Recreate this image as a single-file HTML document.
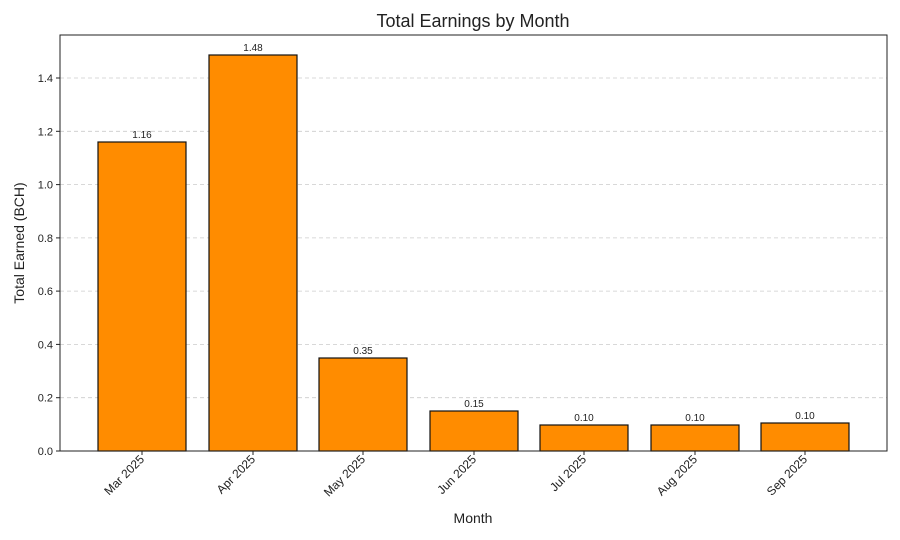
<!DOCTYPE html>
<html><head><style>body{margin:0;background:#fff}svg{display:block;font-family:"Liberation Sans",sans-serif}</style></head>
<body>
<svg width="900" height="540" xmlns="http://www.w3.org/2000/svg">
<rect width="900" height="540" fill="#fff"/>
<text x="473" y="27" font-size="18" text-anchor="middle" fill="#222">Total Earnings by Month</text>
<g stroke="#ccc" stroke-dasharray="4,3" stroke-width="0.8">
<line x1="60" x2="887" y1="397.7" y2="397.7"/>
<line x1="60" x2="887" y1="344.4" y2="344.4"/>
<line x1="60" x2="887" y1="291.1" y2="291.1"/>
<line x1="60" x2="887" y1="237.9" y2="237.9"/>
<line x1="60" x2="887" y1="184.6" y2="184.6"/>
<line x1="60" x2="887" y1="131.3" y2="131.3"/>
<line x1="60" x2="887" y1="78" y2="78"/>
</g>
<g fill="#ff8c00" stroke="#111" stroke-width="1.2">
<rect x="98" y="142" width="88" height="309"/>
<rect x="209" y="55" width="88" height="396"/>
<rect x="319" y="358" width="88" height="93"/>
<rect x="430" y="411" width="88" height="40"/>
<rect x="540" y="425" width="88" height="26"/>
<rect x="651" y="425" width="88" height="26"/>
<rect x="761" y="423" width="88" height="28"/>
</g>
<g font-size="10" text-anchor="middle" fill="#222">
<text x="142" y="138">1.16</text>
<text x="253" y="51">1.48</text>
<text x="363" y="354">0.35</text>
<text x="474" y="407">0.15</text>
<text x="584" y="421">0.10</text>
<text x="695" y="421">0.10</text>
<text x="805" y="419">0.10</text>
</g>
<rect x="60" y="35" width="827" height="416" fill="none" stroke="#222" stroke-width="1"/>
<g stroke="#222">
<line x1="56" x2="60" y1="451" y2="451"/><line x1="56" x2="60" y1="397.7" y2="397.7"/><line x1="56" x2="60" y1="344.4" y2="344.4"/><line x1="56" x2="60" y1="291.1" y2="291.1"/><line x1="56" x2="60" y1="237.9" y2="237.9"/><line x1="56" x2="60" y1="184.6" y2="184.6"/><line x1="56" x2="60" y1="131.3" y2="131.3"/><line x1="56" x2="60" y1="78" y2="78"/>
<line x1="142" x2="142" y1="451" y2="455"/><line x1="253" x2="253" y1="451" y2="455"/><line x1="363" x2="363" y1="451" y2="455"/><line x1="474" x2="474" y1="451" y2="455"/><line x1="584" x2="584" y1="451" y2="455"/><line x1="695" x2="695" y1="451" y2="455"/><line x1="805" x2="805" y1="451" y2="455"/>
</g>
<g font-size="11" text-anchor="end" fill="#222">
<text x="53" y="455">0.0</text><text x="53" y="401.7">0.2</text><text x="53" y="348.4">0.4</text><text x="53" y="295.1">0.6</text><text x="53" y="241.9">0.8</text><text x="53" y="188.6">1.0</text><text x="53" y="135.3">1.2</text><text x="53" y="82">1.4</text>
</g>
<g font-size="12" text-anchor="end" fill="#222">
<text transform="translate(145,460) rotate(-45)">Mar 2025</text>
<text transform="translate(256,460) rotate(-45)">Apr 2025</text>
<text transform="translate(366,460) rotate(-45)">May 2025</text>
<text transform="translate(477,460) rotate(-45)">Jun 2025</text>
<text transform="translate(587,460) rotate(-45)">Jul 2025</text>
<text transform="translate(698,460) rotate(-45)">Aug 2025</text>
<text transform="translate(808,460) rotate(-45)">Sep 2025</text>
</g>
<text x="473" y="523" font-size="14" text-anchor="middle" fill="#222">Month</text>
<text transform="translate(24,243) rotate(-90)" font-size="14" text-anchor="middle" fill="#222">Total Earned (BCH)</text>
</svg>
</body></html>
